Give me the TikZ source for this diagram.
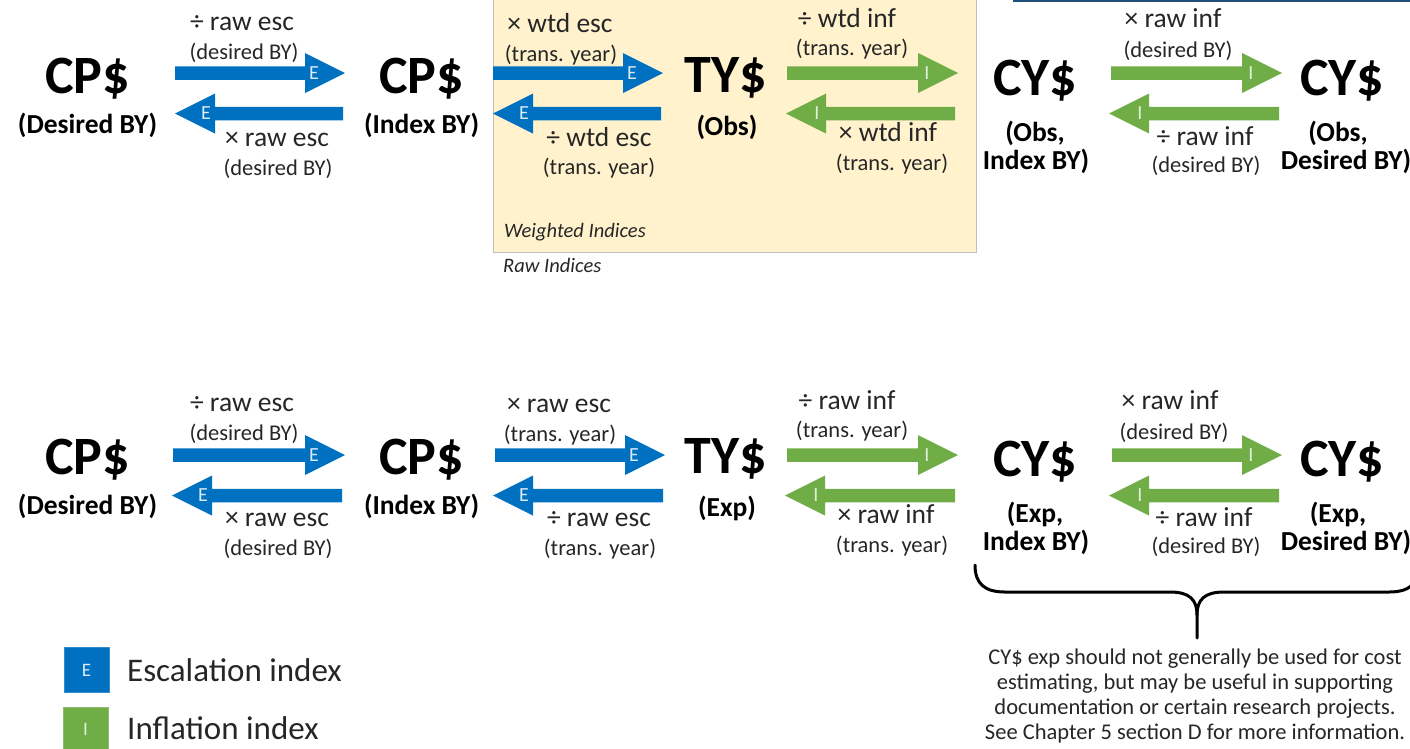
\documentclass[tikz,border=0pt]{standalone}
\usepackage{fontspec}
\setmainfont{Carlito}
\usetikzlibrary{calc}
\definecolor{escblue}{HTML}{0070C0}
\definecolor{infgreen}{HTML}{70AD47}
\definecolor{boxfill}{HTML}{FFF2CC}
\definecolor{boxline}{HTML}{BFBFBF}
\definecolor{topline}{HTML}{1F4E79}
\definecolor{labelgray}{HTML}{262626}
\definecolor{escletter}{HTML}{DDEBF7}
\definecolor{infletter}{HTML}{E2F0D9}
\tikzset{
  big/.style={font=\fontsize{54}{54}\selectfont\bfseries, anchor=base, inner sep=0pt},
  sub/.style={font=\fontsize{27.5}{32}\selectfont\bfseries, anchor=base, inner sep=0pt},
  op/.style={font=\fontsize{27.5}{30}\selectfont, anchor=base, inner sep=0pt, text=labelgray},
  yr/.style={font=\fontsize{22.5}{26}\selectfont, anchor=base, inner sep=0pt, text=labelgray},
  arrowletter/.style={font=\fontsize{20}{20}\selectfont, inner sep=0pt},
  boxnote/.style={font=\fontsize{20.5}{24}\selectfont\itshape, anchor=base west, inner sep=0pt, text=labelgray},
  legendbox/.style={minimum width=45pt, minimum height=45pt, inner sep=0pt, font=\fontsize{19}{19}\selectfont},
  legendtext/.style={font=\fontsize{33}{36}\selectfont, anchor=base west, inner sep=0pt, text=labelgray},
  note/.style={font=\fontsize{22.5}{24.7}\selectfont, align=center, inner sep=0pt, text=labelgray},
  brace/.style={line width=3pt, line cap=round, line join=round}
}
% #1 start, #2 tip, #3 colour, #4 letter, #5 letter colour, #6 letter node name
\newcommand{\fatarrow}[6]{%
  \fill[#3] ($(#1)+(0,6.75)$) -- ($(#2)!40pt!(#1)+(0,6.75)$) -- ($(#2)!40pt!(#1)+(0,20)$) -- (#2)
     -- ($(#2)!40pt!(#1)+(0,-20)$) -- ($(#2)!40pt!(#1)+(0,-6.75)$) -- ($(#1)+(0,-6.75)$) -- cycle;
  \node[arrowletter, text=#5] (#6) at ($(#2)!31pt!(#1)$) {#4};
}
\begin{document}
\begin{tikzpicture}[x=1pt,y=-1pt]
\useasboundingbox (0,0) rectangle (1410,748);
\clip (0,0) rectangle (1410,748);

% weighted-indices box and top line
\draw[boxline, fill=boxfill, line width=1pt] (493,-2) rectangle (976.5,252);
\draw[topline, line width=2.5pt] (1013,0.5) -- (1412,0.5);
\node[boxnote] (wtd) at (504,237) {Weighted Indices};
\node[boxnote] (raw) at (503,272) {Raw Indices};

% ---------- Row 1 ----------
\node[big] (cp1) at (87.5,93) {CP\$};
\node[sub] (cp1s) at (87.5,133) {(Desired BY)};
\node[big] (cp2) at (421.5,93) {CP\$};
\node[sub] (cp2s) at (421.5,133) {(Index BY)};
\node[big] (ty1) at (726,92) {TY\$};
\node[sub] (ty1s) at (727,135) {(Obs)};
\node[big] (cy1) at (1035,95) {CY\$};
\node[sub] (cy1a) at (1035,141) {(Obs,};
\node[sub] (cy1b) at (1036,169) {Index BY)};
\node[big] (cy2) at (1342,95) {CY\$};
\node[sub] (cy2a) at (1338,141) {(Obs,};
\node[sub] (cy2b) at (1346,169) {Desired BY)};

\coordinate (r1a1s) at (175,73);   \coordinate (r1a1t) at (345,73);
\coordinate (r1b1s) at (343,113.5); \coordinate (r1b1t) at (175,113.5);
\coordinate (r1a2s) at (493,73);   \coordinate (r1a2t) at (663,73);
\coordinate (r1b2s) at (661,113.5); \coordinate (r1b2t) at (493,113.5);
\coordinate (r1a3s) at (787,73);   \coordinate (r1a3t) at (958,73);
\coordinate (r1b3s) at (955,113.5); \coordinate (r1b3t) at (786,113.5);
\coordinate (r1a4s) at (1111,73);  \coordinate (r1a4t) at (1282,73);
\coordinate (r1b4s) at (1279,113.5); \coordinate (r1b4t) at (1109,113.5);

\fatarrow{r1a1s}{r1a1t}{escblue}{E}{escletter}{r1l1}
\fatarrow{r1b1s}{r1b1t}{escblue}{E}{escletter}{r1l2}
\fatarrow{r1a2s}{r1a2t}{escblue}{E}{escletter}{r1l3}
\fatarrow{r1b2s}{r1b2t}{escblue}{E}{escletter}{r1l4}
\fatarrow{r1a3s}{r1a3t}{infgreen}{I}{infletter}{r1l5}
\fatarrow{r1b3s}{r1b3t}{infgreen}{I}{infletter}{r1l6}
\fatarrow{r1a4s}{r1a4t}{infgreen}{I}{infletter}{r1l7}
\fatarrow{r1b4s}{r1b4t}{infgreen}{I}{infletter}{r1l8}

\node[op] (t1a) at (242,30) {÷ raw esc};
\node[yr] (t1b) at (244,59) {(desired BY)};
\node[op] (t1c) at (277,146) {× raw esc};
\node[yr] (t1d) at (278,175) {(desired BY)};
\node[op] (t2a) at (560,32) {× wtd esc};
\node[yr] (t2b) at (561,61) {(trans. year)};
\node[op] (t2c) at (599,146) {÷ wtd esc};
\node[yr] (t2d) at (599,174) {(trans. year)};
\node[op] (t3a) at (847,27) {÷ wtd inf};
\node[yr] (t3b) at (852,55) {(trans. year)};
\node[op] (t3c) at (888,141) {× wtd inf};
\node[yr] (t3d) at (892,170) {(trans. year)};
\node[op] (t4a) at (1173,27) {× raw inf};
\node[yr] (t4b) at (1178,57) {(desired BY)};
\node[op] (t4c) at (1205,145) {÷ raw inf};
\node[yr] (t4d) at (1206,172) {(desired BY)};

% ---------- Row 2 ----------
\node[big] (cp3) at (87.5,474) {CP\$};
\node[sub] (cp3s) at (87.5,514) {(Desired BY)};
\node[big] (cp4) at (421.5,474) {CP\$};
\node[sub] (cp4s) at (421.5,514) {(Index BY)};
\node[big] (ty2) at (726,473) {TY\$};
\node[sub] (ty2s) at (727,516) {(Exp)};
\node[big] (cy3) at (1035,476) {CY\$};
\node[sub] (cy3a) at (1035,522) {(Exp,};
\node[sub] (cy3b) at (1036,550) {Index BY)};
\node[big] (cy4) at (1342,476) {CY\$};
\node[sub] (cy4a) at (1338,522) {(Exp,};
\node[sub] (cy4b) at (1346,550) {Desired BY)};

\coordinate (r2a1s) at (173,455);   \coordinate (r2a1t) at (345,455);
\coordinate (r2b1s) at (342,495.5); \coordinate (r2b1t) at (172,495.5);
\coordinate (r2a2s) at (495,455);   \coordinate (r2a2t) at (665,455);
\coordinate (r2b2s) at (663,495.5); \coordinate (r2b2t) at (493,495.5);
\coordinate (r2a3s) at (787,455);   \coordinate (r2a3t) at (958,455);
\coordinate (r2b3s) at (955,495.5); \coordinate (r2b3t) at (785,495.5);
\coordinate (r2a4s) at (1112,455);  \coordinate (r2a4t) at (1282,455);
\coordinate (r2b4s) at (1279,495.5); \coordinate (r2b4t) at (1109,495.5);

\fatarrow{r2a1s}{r2a1t}{escblue}{E}{escletter}{r2l1}
\fatarrow{r2b1s}{r2b1t}{escblue}{E}{escletter}{r2l2}
\fatarrow{r2a2s}{r2a2t}{escblue}{E}{escletter}{r2l3}
\fatarrow{r2b2s}{r2b2t}{escblue}{E}{escletter}{r2l4}
\fatarrow{r2a3s}{r2a3t}{infgreen}{I}{infletter}{r2l5}
\fatarrow{r2b3s}{r2b3t}{infgreen}{I}{infletter}{r2l6}
\fatarrow{r2a4s}{r2a4t}{infgreen}{I}{infletter}{r2l7}
\fatarrow{r2b4s}{r2b4t}{infgreen}{I}{infletter}{r2l8}

\node[op] (u1a) at (242,411) {÷ raw esc};
\node[yr] (u1b) at (244,440) {(desired BY)};
\node[op] (u1c) at (277,526) {× raw esc};
\node[yr] (u1d) at (278,555) {(desired BY)};
\node[op] (u2a) at (559,412) {× raw esc};
\node[yr] (u2b) at (560,441) {(trans. year)};
\node[op] (u2c) at (599,526) {÷ raw esc};
\node[yr] (u2d) at (600,555) {(trans. year)};
\node[op] (u3a) at (847,409) {÷ raw inf};
\node[yr] (u3b) at (852,437) {(trans. year)};
\node[op] (u3c) at (886,523) {× raw inf};
\node[yr] (u3d) at (892,552) {(trans. year)};
\node[op] (u4a) at (1170,409) {× raw inf};
\node[yr] (u4b) at (1174,439) {(desired BY)};
\node[op] (u4c) at (1204,526) {÷ raw inf};
\node[yr] (u4d) at (1206,553) {(desired BY)};

% ---------- brace and note ----------
\coordinate (brL) at (975,565);
\coordinate (brT) at (1197,638);
\coordinate (brR) at (1419,565);
\draw[brace] (brL) .. controls (975,584) and (985,592) .. (1005,592) -- (1170,592)
   .. controls (1190,592) and (1197,600) .. (1197,615) -- (brT);
\draw[brace] (brR) .. controls (1419,584) and (1409,592) .. (1389,592) -- (1224,592)
   .. controls (1204,592) and (1197,600) .. (1197,615);
\node[note] (nt) at (1195,696) {CY\$ exp should not generally be used for cost\\estimating, but may be useful in supporting\\documentation or certain research projects.\\See Chapter 5 section D for more information.};

% ---------- legend ----------
\node[legendbox, fill=escblue, draw=escblue!80!white, text=escletter] (lgE) at (86.5,670) {E};
\node[legendtext] (lgEt) at (127,681) {Escalation index};
\node[legendbox, fill=infgreen, draw=infgreen!80!white, text=infletter] (lgI) at (85.5,729.5) {I};
\node[legendtext] (lgIt) at (127,739) {Inflation index};
\end{tikzpicture}
\end{document}
